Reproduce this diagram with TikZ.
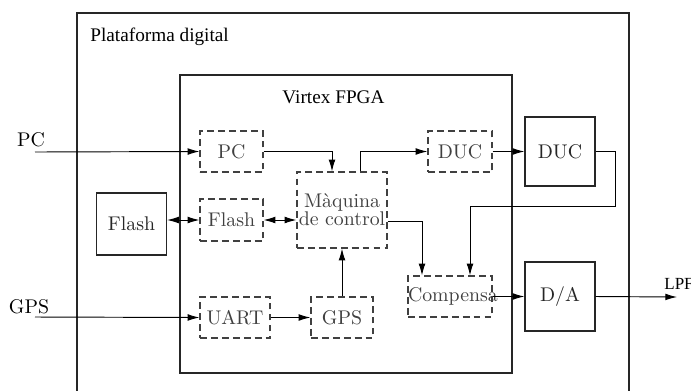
\documentclass[tikz,border=0pt]{standalone}
\usepackage{fontspec}
\newfontfamily\timesfont{Liberation Serif}
\usepackage{tikz}
\usetikzlibrary{arrows.meta,positioning,calc}

\begin{document}
\begin{tikzpicture}[x=0.53pt, y=-0.53pt,
  font=\fontsize{10.5}{12.6}\selectfont,
  dblk/.style={draw=black!75, dash pattern=on 3.6pt off 2.2pt, line width=0.65pt,
    text=black!75, inner sep=0pt, minimum height=21.7pt, align=center},
  sblk/.style={draw=black!85, line width=0.65pt, text=black!85, inner sep=0pt,
    minimum width=37.1pt, minimum height=36.6pt},
  frame/.style={draw=black!85, line width=0.6pt},
  arr/.style={-{Latex[length=6.2pt, width=3.6pt]}, line width=0.5pt},
  darr/.style={{Latex[length=6.2pt, width=3.6pt]}-{Latex[length=6.2pt, width=3.6pt]}, line width=0.5pt}
]
  \clip (0,0) rectangle (691,390);
  % frames
  \draw[frame] (77,13) rectangle (629,420);
  \draw[frame] (180,75) rectangle (512,373);
  \node[anchor=base west, inner sep=0pt, font=\timesfont\fontsize{10.2}{12}\selectfont] (plat) at (90,41) {Plataforma digital};
  \node[anchor=base, inner sep=0pt, font=\timesfont\fontsize{10.2}{12}\selectfont] (virtex) at (333.5,103) {Virtex FPGA};
  % blocks
  \node[dblk, minimum width=33.4pt] (pcd) at (231.5,151.5) {PC};
  \node[dblk, minimum width=33.9pt] (ducd) at (460,151.5) {DUC};
  \node[sblk] (ducs) at (560,151.5) {DUC};
  \node[sblk, minimum height=32.9pt] (flashs) at (131.5,224) {Flash};
  \node[dblk, minimum width=33.4pt, minimum height=22.3pt] (flashd) at (231.5,220) {Flash};
  \node[dblk, minimum width=47.7pt, minimum height=40.3pt] (maq) at (342,210) {M\`aquina\\[-3pt]de control};
  \node[dblk, minimum width=37.1pt] (uart) at (235,317.5) {UART};
  \node[dblk, minimum width=32.9pt] (gpsd) at (342,317.5) {GPS};
  \node[dblk, minimum width=44.5pt, text width=44.5pt] (comp) at (450,296.5) {Compensa};
  \node[sblk] (da) at (560,296.5) {D/A};
  % inputs / output
  \coordinate (pcin) at (35,152);
  \coordinate (gpsin) at (35,317);
  \coordinate (lpf) at (677,297);
  \node[anchor=base, inner sep=0pt] (pclab) at (31,146) {PC};
  \node[anchor=base, inner sep=0pt] (gpslab) at (29,313) {GPS};
  \node[anchor=base west, inner sep=0pt, font=\timesfont\small] (lpflab) at (664,289) {LPF};
  % connectors
  \draw[arr] (pcin) -- (pcd.west);
  \draw[arr] (pcd.east) -| ($(maq.north)+(-10,0)$);
  \draw[arr] ($(maq.north)+(18,0)$) |- (ducd.west);
  \draw[arr] (ducd.east) -- (ducs.west);
  \draw[arr] (ducs.east) -- ++(20,0) -- ++(0,55) -| ($(comp.north)+(20,0)$);
  \draw[arr] ($(maq.east)+(0,11)$) -| ($(comp.north)+(-28,0)$);
  \draw[darr] (flashd.west -| flashs.east) -- (flashd.west);
  \draw[darr] (flashd.east) -- (flashd.east -| maq.west);
  \draw[arr] (gpsin) -- (uart.west);
  \draw[arr] (uart.east) -- (gpsd.west);
  \draw[arr] (gpsd.north) -- (maq.south);
  \draw[arr] (comp.east) -- (da.west);
  \draw[arr] (da.east) -- (lpf);
\end{tikzpicture}
\end{document}
